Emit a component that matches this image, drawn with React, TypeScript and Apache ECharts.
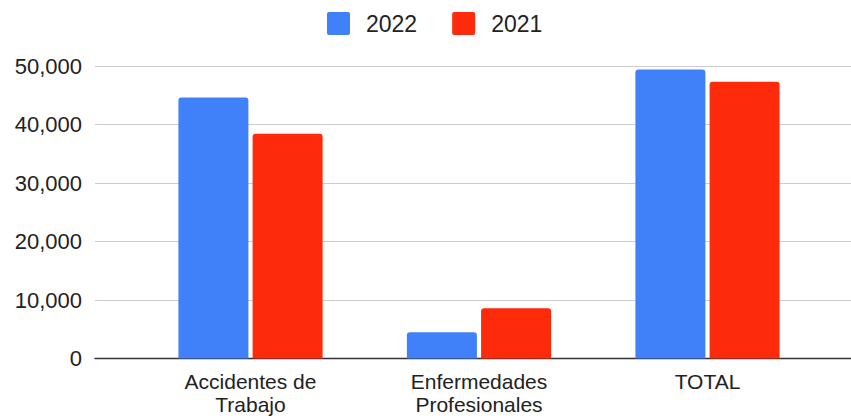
import React, { useEffect, useRef } from "react";
import * as echarts from "echarts";

const categories = ["Accidentes de\nTrabajo", "Enfermedades\nProfesionales", "TOTAL"];
const seriesNames = ["2022", "2021"];
const values2022 = [44600, 4500, 49400];
const values2021 = [38400, 8600, 47300];
const yMin = 0;
const yMax = 50000;
const yInterval = 10000;

const FONT = "'Liberation Sans', Arial, Helvetica, sans-serif";
const BLUE = "#4080f8";
const RED = "#fd2a0b";
const ICON = "path://M2,0H21A2,2 0 0 1 23,2V21A2,2 0 0 1 21,23H2A2,2 0 0 1 0,21V2A2,2 0 0 1 2,0Z";

export default function App() {
  const ref = useRef<HTMLDivElement>(null);
  useEffect(() => {
    if (!ref.current) return;
    const chart = echarts.init(ref.current, null, { renderer: "svg" });
    chart.setOption({
      animation: false,
      backgroundColor: "#ffffff",
      textStyle: { fontFamily: FONT },
      legend: {
        data: seriesNames,
        left: 327,
        top: 12,
        padding: 0,
        itemWidth: 23,
        itemHeight: 23,
        itemGap: 35,
        icon: ICON,
        textStyle: {
          fontFamily: FONT,
          fontSize: 23,
          color: "#222",
          padding: [0, 0, 0, 11],
        },
      },
      grid: [
        { left: 95, right: 0, top: 66, bottom: 60.5 },
        { left: 136.25, right: 29.25, top: 66, bottom: 60.5 },
      ],
      xAxis: [
        {
          type: "value",
          gridIndex: 0,
          min: 0,
          max: 1,
          axisLine: { show: true, onZero: false, lineStyle: { color: "#333", width: 1.3 } },
          axisTick: { show: false },
          axisLabel: { show: false },
          splitLine: { show: false },
        },
        {
          type: "category",
          gridIndex: 1,
          data: categories,
          axisLine: { show: false },
          axisTick: { show: false },
          axisLabel: {
            fontFamily: FONT,
            fontSize: 21,
            lineHeight: 23,
            color: "#222",
            margin: 11,
            interval: 0,
          },
        },
      ],
      yAxis: [
        {
          type: "value",
          gridIndex: 0,
          min: yMin,
          max: yMax,
          interval: yInterval,
          axisLine: { show: false },
          axisTick: { show: false },
          axisLabel: {
            fontFamily: FONT,
            fontSize: 22,
            color: "#222",
            margin: 13,
            formatter: (v: number) => v.toLocaleString("en-US"),
          },
          splitLine: { lineStyle: { color: "#cccccc", width: 1 } },
        },
        {
          type: "value",
          gridIndex: 1,
          min: yMin,
          max: yMax,
          interval: yInterval,
          show: false,
          splitLine: { show: false },
        },
      ],
      series: [
        {
          name: seriesNames[0],
          type: "bar",
          xAxisIndex: 1,
          yAxisIndex: 1,
          data: values2022,
          barWidth: 70,
          barGap: "6%",
          itemStyle: { color: BLUE, borderRadius: [3, 3, 0, 0] },
        },
        {
          name: seriesNames[1],
          type: "bar",
          xAxisIndex: 1,
          yAxisIndex: 1,
          data: values2021,
          barWidth: 70,
          barGap: "6%",
          itemStyle: { color: RED, borderRadius: [3, 3, 0, 0] },
        },
      ],
    });
    return () => chart.dispose();
  }, []);
  return <div ref={ref} style={{ width: 851, height: 419, position: "absolute", left: 0, top: 0 }} />;
}
